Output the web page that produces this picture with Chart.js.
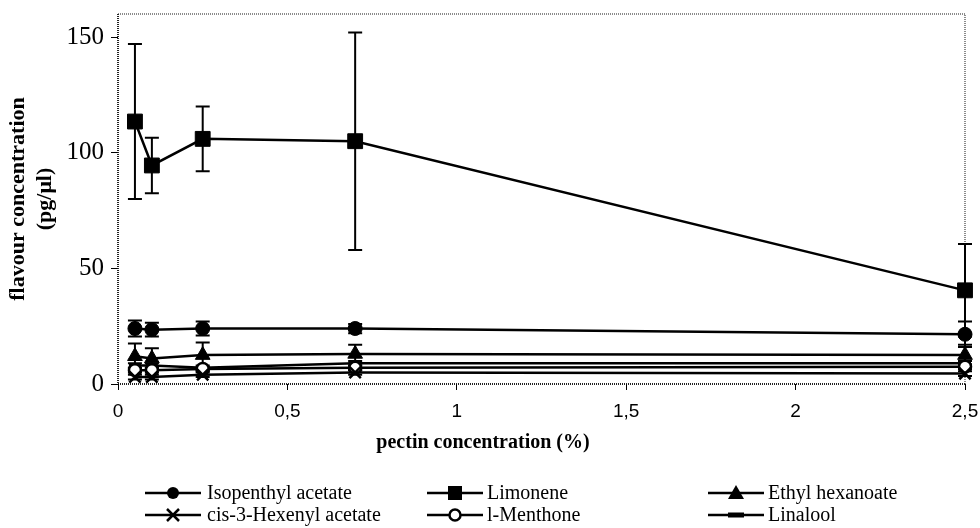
<!DOCTYPE html>
<html><head><meta charset="utf-8">
<script src="https://cdn.jsdelivr.net/npm/chart.js@4.4.1/dist/chart.umd.min.js"></script>
<style>html,body{margin:0;padding:0;background:#fff;}canvas{display:block;}</style>
</head><body>
<canvas id="c" width="980" height="528"></canvas>
<script>
// ---- data ----
const pectin = [0.05, 0.1, 0.25, 0.7, 2.5];
const seriesNames = ["Isopenthyl acetate", "Limonene", "Ethyl hexanoate", "cis-3-Hexenyl acetate", "l-Menthone", "Linalool"];
const isopenthyl    = [24, 23.5, 24, 24, 21.5];
const isopenthylErr = [3.5, 3, 3, 2, 5.5];
const limonene      = [113.5, 94.5, 106, 105, 40.5];
const limoneneErr   = [33.5, 12, 14, 47, 20];
const ethylHex      = [12, 11, 12.5, 13, 12.5];
const ethylHexErr   = [5.5, 4.5, 5.5, 4, 4.5];
const cisHexenyl    = [3, 3, 4, 5, 4.5];
const cisHexenylErr = [1, 1, 1, 1, 1];
const menthone      = [6, 6, 6.5, 7, 7.5];
const menthoneErr   = [1, 1, 1, 1, 1];
const linalool      = [8, 8, 7, 9, 9];
const linaloolErr   = [1, 1, 1, 1, 1];
const xTickValues = [0, 0.5, 1, 1.5, 2, 2.5];
const xTickLabels = ["0", "0,5", "1", "1,5", "2", "2,5"];
const yTickValues = [0, 50, 100, 150];
const yTickLabels = ["0", "50", "100", "150"];
const xTitle = "pectin concentration (%)";
const yTitle = ["flavour concentration", "(pg/μl)"];

const toPts = arr => arr.map((v, i) => ({x: pectin[i], y: v}));

function ds(label, vals, err, style, radius, fill, bw) {
  return {
    label, data: toPts(vals), errors: err,
    borderColor: '#000', borderWidth: 2.5, tension: 0, clip: false,
    pointStyle: style, pointRadius: radius, pointHoverRadius: radius,
    pointBackgroundColor: fill, pointBorderColor: '#000', pointBorderWidth: bw
  };
}

const datasets = [
  ds(seriesNames[0], isopenthyl, isopenthylErr, 'circle', 7, '#000', 1),
  ds(seriesNames[1], limonene, limoneneErr, 'rect', 10.5, '#000', 1),
  ds(seriesNames[2], ethylHex, ethylHexErr, 'triangle', 8.5, '#000', 1),
  ds(seriesNames[3], cisHexenyl, cisHexenylErr, 'crossRot', 8, '#000', 2.5),
  ds(seriesNames[4], menthone, menthoneErr, 'circle', 6, '#fff', 2.5),
  ds(seriesNames[5], linalool, linaloolErr, 'line', 6, '#000', 4.5)
];

const errorBars = {
  id: 'errorBars',
  beforeDatasetsDraw(chart) {
    const {ctx, scales: {x, y}} = chart;
    ctx.save();
    ctx.strokeStyle = '#000';
    ctx.lineWidth = 2;
    chart.data.datasets.forEach(d => {
      d.data.forEach((p, i) => {
        const e = d.errors[i];
        const px = x.getPixelForValue(p.x);
        const top = y.getPixelForValue(p.y + e);
        const bot = y.getPixelForValue(Math.max(0, p.y - e));
        ctx.beginPath();
        ctx.moveTo(px, top); ctx.lineTo(px, bot);
        ctx.moveTo(px - 7, top); ctx.lineTo(px + 7, top);
        if (p.y - e > 0) { ctx.moveTo(px - 7, bot); ctx.lineTo(px + 7, bot); }
        ctx.stroke();
      });
    });
    ctx.restore();
  }
};

const frame = {
  id: 'frame',
  beforeDraw(chart) {
    const {ctx, chartArea: a} = chart;
    ctx.save();
    ctx.setLineDash([1, 1]);
    ctx.strokeStyle = '#666';
    ctx.lineWidth = 1.5;
    ctx.beginPath();
    ctx.moveTo(a.left, a.top); ctx.lineTo(a.right, a.top); ctx.lineTo(a.right, a.bottom);
    ctx.stroke();
    ctx.strokeStyle = '#222';
    ctx.lineWidth = 2;
    ctx.beginPath();
    ctx.moveTo(a.left, a.top); ctx.lineTo(a.left, a.bottom); ctx.lineTo(a.right, a.bottom);
    ctx.stroke();
    ctx.restore();
  }
};

function drawMarker(ctx, style, cx, cy) {
  ctx.save();
  ctx.fillStyle = '#000'; ctx.strokeStyle = '#000';
  ctx.beginPath();
  if (style === 'circle') { ctx.arc(cx, cy, 6, 0, Math.PI * 2); ctx.fill(); }
  else if (style === 'rect') { ctx.fillRect(cx - 7, cy - 7, 14, 14); }
  else if (style === 'triangle') { ctx.moveTo(cx, cy - 8); ctx.lineTo(cx + 8, cy + 6); ctx.lineTo(cx - 8, cy + 6); ctx.closePath(); ctx.fill(); }
  else if (style === 'crossRot') { ctx.lineWidth = 2.5; ctx.moveTo(cx - 6, cy - 6); ctx.lineTo(cx + 6, cy + 6); ctx.moveTo(cx + 6, cy - 6); ctx.lineTo(cx - 6, cy + 6); ctx.stroke(); }
  else if (style === 'open') { ctx.fillStyle = '#fff'; ctx.lineWidth = 2.5; ctx.arc(cx, cy, 5.5, 0, Math.PI * 2); ctx.fill(); ctx.stroke(); }
  else if (style === 'line') { ctx.fillRect(cx - 8, cy - 2.5, 16, 5); }
  ctx.restore();
}

const legendPlugin = {
  id: 'customLegend',
  afterDraw(chart) {
    const {ctx} = chart;
    const colMarker = [173, 455, 736];
    const colText = [207, 487, 768];
    const rowY = [493, 515];
    const styles = ['circle', 'rect', 'triangle', 'crossRot', 'open', 'line'];
    ctx.save();
    ctx.font = '20px "Liberation Serif"';
    ctx.textBaseline = 'middle';
    ctx.fillStyle = '#000';
    chart.data.datasets.forEach((d, i) => {
      const c = i % 3, r = Math.floor(i / 3);
      const mx = colMarker[c], my = rowY[r];
      ctx.strokeStyle = '#000'; ctx.lineWidth = 2.5;
      ctx.beginPath(); ctx.moveTo(mx - 28, my); ctx.lineTo(mx + 28, my); ctx.stroke();
      drawMarker(ctx, styles[i], mx, my);
      ctx.fillText(d.label, colText[c], my + 1);
    });
    // x-axis title (offset left of plot centre, as in the original)
    ctx.font = 'bold 20px "Liberation Serif"';
    ctx.textAlign = 'center';
    ctx.fillText(xTitle, 483, 443);
    ctx.restore();
  }
};

new Chart(document.getElementById('c'), {
  type: 'line',
  data: {datasets},
  options: {
    responsive: false, animation: false, devicePixelRatio: 1,
    layout: {padding: {top: 14, right: 15, bottom: 72, left: 0}},
    plugins: {legend: {display: false}, tooltip: {enabled: false}},
    scales: {
      x: {
        type: 'linear', min: 0, max: 2.5,
        afterBuildTicks: s => { s.ticks = xTickValues.map(v => ({value: v})); },
        afterFit: s => { s.height = 72; s.paddingLeft = 0; s.paddingRight = 0; },
        ticks: {
          callback: (v) => xTickLabels[xTickValues.indexOf(v)],
          font: {family: '"Liberation Sans"', size: 19}, color: '#000', padding: 10, maxRotation: 0
        },
        grid: {display: true, drawOnChartArea: false, drawTicks: true, tickLength: 6, color: '#000'},
        border: {display: false},
        title: {display: false}
      },
      y: {
        min: 0, max: 160,
        afterBuildTicks: s => { s.ticks = yTickValues.map(v => ({value: v})); },
        afterFit: s => { s.width = 118; s.paddingTop = 0; s.paddingBottom = 0; },
        ticks: {
          callback: (v) => yTickLabels[yTickValues.indexOf(v)],
          font: {family: '"Liberation Serif"', size: 25}, color: '#000', padding: 7
        },
        grid: {display: true, drawOnChartArea: false, drawTicks: true, tickLength: 7, color: '#000'},
        border: {display: false},
        title: {display: true, text: yTitle, color: '#000',
          font: {family: '"Liberation Serif"', size: 22, weight: 'bold', lineHeight: '27px'}, padding: {top: 5, bottom: 0}}
      }
    }
  },
  plugins: [frame, errorBars, legendPlugin]
});
</script>
</body></html>
